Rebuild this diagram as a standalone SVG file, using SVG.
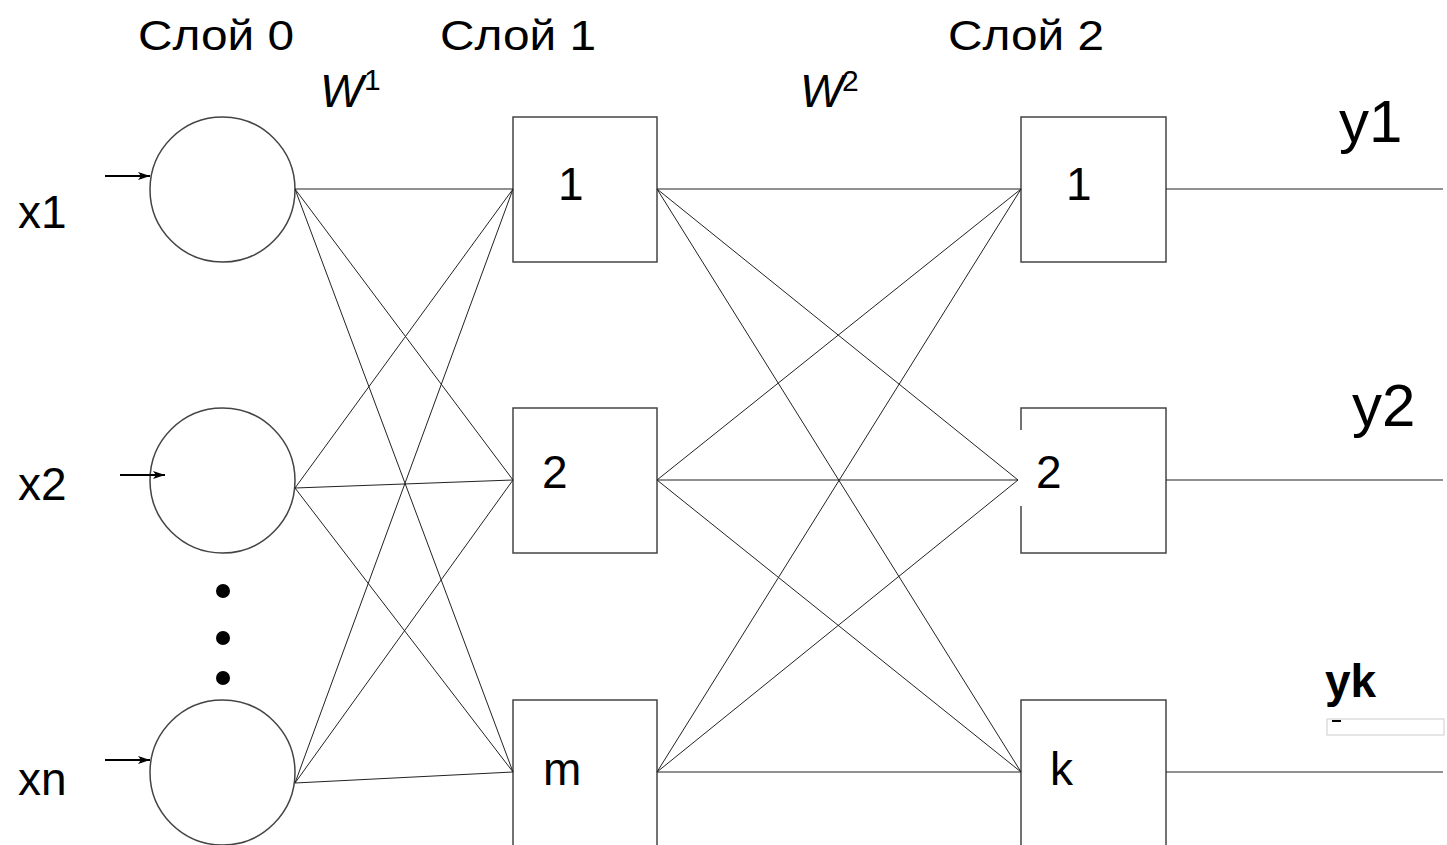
<svg xmlns="http://www.w3.org/2000/svg" width="1447" height="845" viewBox="0 0 1447 845">
<defs>
<style>
.t{font-family:"Liberation Sans",Arial,sans-serif;font-size:46px;fill:#000}
.big{font-size:60px}
.ttl{font-size:43px}
.it{font-style:italic}
.sup{font-size:30px}
.node{fill:#fff;stroke:#444;stroke-width:1.5}
.c{stroke:#222;stroke-width:1;fill:none}
.in{stroke:#000;stroke-width:1.8;fill:none;marker-end:url(#ah)}
</style>
<marker id="ah" viewBox="0 0 12 8" refX="12" refY="4" markerWidth="12" markerHeight="8" markerUnits="userSpaceOnUse" orient="auto">
<path d="M0,0 L12,4 L0,8 L3,4 Z" fill="#000"/>
</marker>
</defs>
<rect width="1447" height="845" fill="#fff"/>
<g id="titles">
<text class="t ttl" x="138" y="50" textLength="156" lengthAdjust="spacingAndGlyphs">Слой 0</text>
<text class="t ttl" x="440" y="50" textLength="156" lengthAdjust="spacingAndGlyphs">Слой 1</text>
<text class="t ttl" x="948" y="50" textLength="156" lengthAdjust="spacingAndGlyphs">Слой 2</text>
<text class="t it" x="320" y="107">W</text>
<text class="t sup" x="364" y="90">1</text>
<text class="t it" x="800" y="107">W</text>
<text class="t sup" x="842" y="91" font-size="28">2</text>
</g>
<g id="inputs">
<text class="t" x="18" y="228">x1</text>
<text class="t" x="18" y="500">x2</text>
<text class="t" x="18" y="795">xn</text>
</g>
<g id="in1"><circle class="node" cx="222.5" cy="189.5" r="72.5"/></g>
<g id="in2"><circle class="node" cx="222.5" cy="480.5" r="72.5"/></g>
<g id="dots" fill="#000">
<circle cx="223" cy="591" r="7"/>
<circle cx="223" cy="638" r="7"/>
<circle cx="223" cy="678" r="7"/>
</g>
<g id="inn"><circle class="node" cx="222.5" cy="772.5" r="72.5"/></g>
<g id="h1"><rect class="node" x="513" y="117" width="144" height="145"/><text class="t" x="558" y="200">1</text></g>
<g id="h2"><rect class="node" x="513" y="408" width="144" height="145"/><text class="t" x="542" y="488">2</text></g>
<g id="hm"><rect class="node" x="513" y="700" width="144" height="150"/><text class="t" x="543" y="785">m</text></g>
<g id="o1"><rect class="node" x="1021" y="117" width="145" height="145"/><text class="t" x="1066" y="200">1</text></g>
<g id="o2"><rect class="node" x="1021" y="408" width="145" height="145"/><rect x="1020" y="430" width="45" height="76" fill="#fff"/><text class="t" x="1036" y="488">2</text></g>
<g id="ok"><rect class="node" x="1021" y="700" width="145" height="150"/><text class="t" x="1050" y="785">k</text></g>
<g id="connectors">
<line class="c" x1="295" y1="189" x2="513" y2="189"/>
<line class="c" x1="295" y1="189" x2="513" y2="480"/>
<line class="c" x1="295" y1="189" x2="513" y2="772"/>
<line class="c" x1="295" y1="488" x2="513" y2="189"/>
<line class="c" x1="295" y1="488" x2="513" y2="480"/>
<line class="c" x1="295" y1="488" x2="513" y2="772"/>
<line class="c" x1="295" y1="783" x2="513" y2="189"/>
<line class="c" x1="295" y1="783" x2="513" y2="480"/>
<line class="c" x1="295" y1="783" x2="513" y2="772"/>
<line class="c" x1="657" y1="189" x2="1021" y2="189"/>
<line class="c" x1="657" y1="189" x2="1018" y2="480"/>
<line class="c" x1="657" y1="189" x2="1021" y2="772"/>
<line class="c" x1="657" y1="480" x2="1021" y2="189"/>
<line class="c" x1="657" y1="480" x2="1018" y2="480"/>
<line class="c" x1="657" y1="480" x2="1021" y2="772"/>
<line class="c" x1="657" y1="772" x2="1021" y2="189"/>
<line class="c" x1="657" y1="772" x2="1018" y2="480"/>
<line class="c" x1="657" y1="772" x2="1021" y2="772"/>
<line class="c" x1="1166" y1="189" x2="1443" y2="189"/>
<line class="c" x1="1166" y1="480" x2="1443" y2="480"/>
<line class="c" x1="1166" y1="772" x2="1443" y2="772"/>
<line class="in" x1="105" y1="176" x2="150" y2="176"/>
<line class="in" x1="120" y1="475" x2="165" y2="475"/>
<line class="in" x1="105" y1="760" x2="150" y2="760"/>
</g>
<g id="outputs">
<text class="t big" x="1339" y="142">y1</text>
<text class="t big" x="1352" y="426">y2</text>
<text class="t" x="1325" y="697" font-size="48" font-weight="bold">yk</text>
<rect x="1327" y="719" width="117" height="16" fill="none" stroke="#ccc" stroke-width="1"/>
<line x1="1332" y1="721" x2="1341" y2="721" stroke="#000" stroke-width="2"/>
</g>
</svg>
